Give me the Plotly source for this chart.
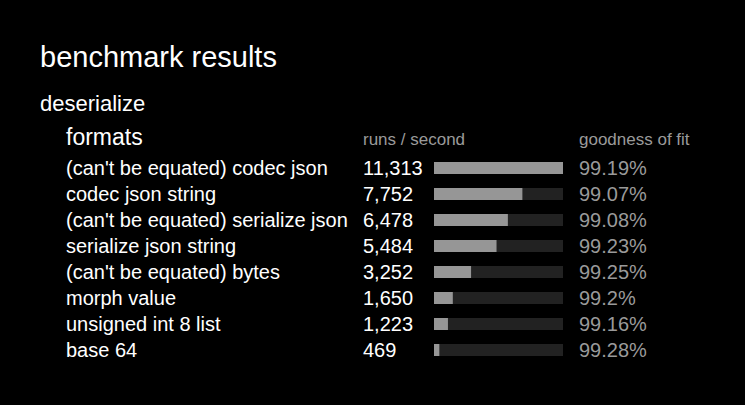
import plotly.graph_objects as go

title = "benchmark results"
section = "deserialize"
col_headers = ["formats", "runs / second", "goodness of fit"]
formats = [
    "(can't be equated) codec json",
    "codec json string",
    "(can't be equated) serialize json",
    "serialize json string",
    "(can't be equated) bytes",
    "morph value",
    "unsigned int 8 list",
    "base 64",
]
runs_per_second = [11313, 7752, 6478, 5484, 3252, 1650, 1223, 469]
goodness = ["99.19%", "99.07%", "99.08%", "99.23%", "99.25%", "99.2%", "99.16%", "99.28%"]

W, H = 745, 405
FONT = "Liberation Sans, Arial, Helvetica, sans-serif"
FILL = "#969696"
TRACK = "#222222"
GRAY = "#9a9a9a"

def px(x):
    return x / W

def py(y):
    return 1 - y / H

n = len(formats)
rows = list(range(n))
vmax = max(runs_per_second)

fig = go.Figure()
fig.add_trace(go.Bar(
    x=[vmax] * n, y=rows, orientation="h",
    marker=dict(color=TRACK, line=dict(width=0)),
    width=12 / 26, hoverinfo="skip", showlegend=False,
))
fig.add_trace(go.Bar(
    x=runs_per_second, y=rows, orientation="h",
    marker=dict(color=FILL, line=dict(width=0)),
    width=12 / 26, showlegend=False,
))

def text(t, x, y, size, color, yref="paper"):
    return dict(text=t, x=x, y=y, xref="paper", yref=yref,
                xanchor="left", yanchor="middle", showarrow=False,
                borderpad=0, borderwidth=0,
                font=dict(size=size, color=color, family=FONT))

ann = [
    text(title, px(40), py(57), 29, "white"),
    text(section, px(40), py(103), 22, "white"),
    text(col_headers[0], px(66), py(137), 23, "white"),
    text(col_headers[1], px(363), py(139), 17, GRAY),
    text(col_headers[2], px(579), py(139), 17, GRAY),
]
for i in rows:
    ann.append(text(formats[i], px(66), i, 20, "white", "y"))
    ann.append(text(f"{runs_per_second[i]:,}", px(363), i, 20, "white", "y"))
    ann.append(text(goodness[i], px(579), i, 20, GRAY, "y"))

top_px = 168
step = 26
fig.update_layout(
    width=W, height=H,
    margin=dict(l=0, r=0, t=0, b=0),
    paper_bgcolor="black", plot_bgcolor="black",
    barmode="overlay",
    xaxis=dict(domain=[px(434), px(563)], range=[0, vmax], visible=False, fixedrange=True),
    yaxis=dict(domain=[0, 1], range=[(H - top_px) / step, -top_px / step],
               visible=False, fixedrange=True),
    annotations=ann,
    font=dict(family=FONT),
)
fig.write_html("out.html")
